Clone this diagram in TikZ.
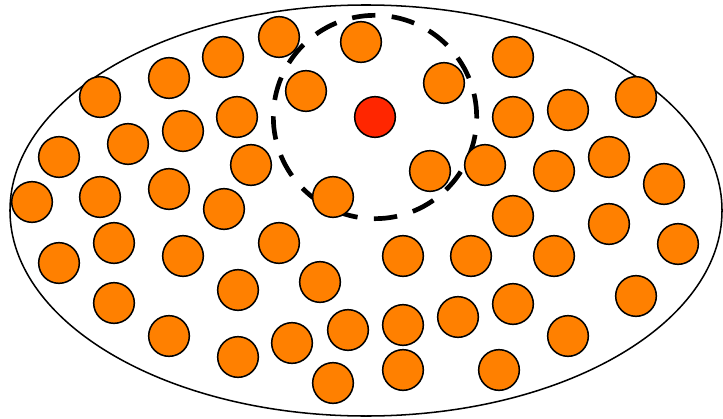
\documentclass[tikz,border=0pt]{standalone}
\usepackage{tikz}
\usetikzlibrary{shapes, positioning, backgrounds}
\usepackage{xcolor}

\definecolor{ballorange}{RGB}{255,128,0}
\definecolor{hotred}{RGB}{255,38,0}

\begin{document}
\begin{tikzpicture}[
    x=0.03cm, y=-0.03cm,
    ball/.style={
        circle, draw, line width=1.3pt, fill=ballorange, minimum size=1.22cm, inner sep=0pt
    },
    seed/.style={
        ball, fill=hotred
    },
    region/.style={
        ellipse, draw, line width=1.3pt, minimum width=21.36cm, minimum height=12.33cm, inner sep=0pt
    },
    zone/.style={
        circle, draw, line width=4pt, dash pattern=on 20pt off 14pt, minimum size=6.1cm, inner sep=0pt
    }
]

    % --- bounding box ---
    \useasboundingbox (0,0) rectangle (723,419);

    % --- outer ellipse ---
    \node [region] (space) at (366,210.5) {};

    % --- neighbourhood ---
    \node [zone] (hood) at (375,117) {};
    \node [seed] (center) at (hood.center) {};

    % --- particles ---
    \foreach \x/\y [count=\i] in {
        279/37, 223/57, 169/78, 100/97, 306/91, 237/117, 183/131, 128/144,
        59/157, 251/165, 32/202, 100/197, 169/189, 224/209, 333/197, 361/42,
        513/57, 444/83, 513/117, 568/110, 636/97, 430/171, 485/165, 554/171,
        609/157, 664/184,
        59/263, 114/243, 183/256, 279/243, 114/303, 238/290, 320/282, 169/336,
        238/357, 292/343, 348/330, 333/383,
        513/216, 609/224, 678/244, 403/256, 471/256, 554/256, 636/296, 513/304,
        458/317, 403/325, 568/336, 403/370, 499/370}
        \node [ball] (p\i) at (\x,\y) {};

\end{tikzpicture}
\end{document}
